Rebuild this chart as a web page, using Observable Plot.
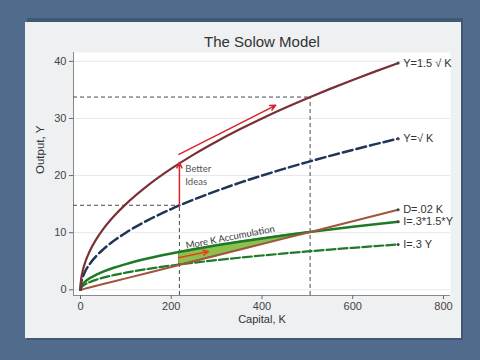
<!DOCTYPE html>
<html>
<head>
<meta charset="utf-8">
<script src="https://cdn.jsdelivr.net/npm/d3@7"></script>
<script src="https://cdn.jsdelivr.net/npm/@observablehq/plot@0.6"></script>
<style>
  html, body { margin: 0; padding: 0; }
  body { width: 480px; height: 360px; background: #506b8c; position: relative; overflow: hidden; font-family: "Liberation Sans", Arial, sans-serif; }
  #shadow { position: absolute; left: 27px; top: 18px; width: 436px; height: 322px; background: #3f5873; }
  #panel { position: absolute; left: 25px; top: 22px; width: 436px; height: 316px; background: #eef0f2; }
  #chart { position: absolute; left: 0; top: 0; }
  #chart svg { background: transparent !important; }
</style>
</head>
<body>
<div id="shadow"></div>
<div id="panel"></div>
<div id="chart"></div>
<script>
// Capital stock samples
const K = [0, 1, 3, 6, 10, 20, 35, 50, 75, 100, 150, 200, 250, 300, 350, 400, 450, 500, 550, 600, 650, 700];
// Y = 1.5 sqrt(K)
const Yhigh = [0, 1.5, 2.60, 3.67, 4.74, 6.71, 8.87, 10.61, 12.99, 15, 18.37, 21.21, 23.72, 25.98, 28.06, 30, 31.82, 33.54, 35.18, 36.74, 38.24, 39.69];
// Y = sqrt(K)
const Ylow = [0, 1, 1.73, 2.45, 3.16, 4.47, 5.92, 7.07, 8.66, 10, 12.25, 14.14, 15.81, 17.32, 18.71, 20, 21.21, 22.36, 23.45, 24.49, 25.50, 26.46];
// I = .3*1.5*Y
const Ihigh = [0, 0.45, 0.78, 1.10, 1.42, 2.01, 2.66, 3.18, 3.90, 4.5, 5.51, 6.36, 7.11, 7.79, 8.42, 9.0, 9.55, 10.06, 10.55, 11.02, 11.47, 11.91];
// I = .3 Y
const Ilow = [0, 0.3, 0.52, 0.73, 0.95, 1.34, 1.77, 2.12, 2.60, 3.0, 3.67, 4.24, 4.74, 5.20, 5.61, 6.0, 6.36, 6.71, 7.04, 7.35, 7.65, 7.94];
// D = .02 K
const Dep = [0, 0.02, 0.06, 0.12, 0.2, 0.4, 0.7, 1, 1.5, 2, 3, 4, 5, 6, 7, 8, 9, 10, 11, 12, 13, 14];

// Shaded "More K accumulation" region
const shadeK = [218, 250, 300, 350, 400, 450, 506];
const shadeTop = [6.64, 7.11, 7.79, 8.42, 9.0, 9.55, 10.12];
const shadeBottom = [4.36, 5, 6, 7, 8, 9, 10.12];

// Steady states
const steadyK = [218, 506];
const steadyY = [14.8, 33.75];

// Annotation arrows
const arrows = [
  {x1: 218, y1: 14.8, x2: 218, y2: 22.3, c: "#d8232a"},
  {x1: 217, y1: 23.7, x2: 430, y2: 32.3, c: "#d8232a"},
  {x1: 216, y1: 5.6, x2: 282, y2: 6.7, c: "#e8401c"}
];

// Curve end labels
const curveLabels = ["Y=1.5 \u221A K", "Y=\u221A K", "D=.02 K", "I=.3*1.5*Y", "I=.3 Y"];
const curveEnds = [39.69, 26.46, 14.0, 11.91, 7.94];

const xTicks = [0, 200, 400, 600, 800];
const yTicks = [0, 10, 20, 30, 40];
const xDomain = [-15.4, 815.4];
const yDomain = [-1, 41.55];

const rows = K.map((k, i) => ({K: k, Yh: Yhigh[i], Yl: Ylow[i], Ih: Ihigh[i], Il: Ilow[i], D: Dep[i]}));
const shade = shadeK.map((k, i) => ({K: k, top: shadeTop[i], bottom: shadeBottom[i]}));
const ends = curveLabels.map((t, i) => ({t, y: curveEnds[i], K: 700}));
const hRefs = steadyK.map((k, i) => ({x1: xDomain[0], x2: k, y: steadyY[i]}));
const vRefs = steadyK.map((k, i) => ({x: k, y1: yDomain[0], y2: steadyY[i]}));

const chart = Plot.plot({
  width: 480,
  height: 360,
  marginLeft: 73,
  marginRight: 30,
  marginTop: 52,
  marginBottom: 65,
  style: {background: "transparent", fontFamily: "Liberation Sans, Arial, sans-serif"},
  x: {domain: xDomain},
  y: {domain: yDomain},
  marks: [
    Plot.frame({fill: "white", stroke: null}),
    Plot.gridY(yTicks, {stroke: "#e6e9ec", strokeOpacity: 1}),
    Plot.ruleX([xDomain[0]], {stroke: "#8a8a8a", strokeWidth: 1}),
    Plot.ruleY([yDomain[0]], {stroke: "#8a8a8a", strokeWidth: 1}),
    Plot.axisX({ticks: xTicks, tickSize: 4, tickPadding: 3, fontSize: 11, color: "#444", stroke: "#666", label: null}),
    Plot.axisY({ticks: yTicks, tickSize: 4, tickPadding: 3, fontSize: 11, color: "#444", stroke: "#666", label: null}),
    // reference dashed lines
    Plot.ruleY(hRefs, {x1: "x1", x2: "x2", y: "y", stroke: "#4a4a4a", strokeDasharray: "4,3", strokeWidth: 1}),
    Plot.ruleX(vRefs, {x: "x", y1: "y1", y2: "y2", stroke: "#4a4a4a", strokeDasharray: "4,3", strokeWidth: 1}),
    // shaded region
    Plot.areaY(shade, {x: "K", y1: "bottom", y2: "top", fill: "#8dc04f", stroke: "#5a7a2a", strokeWidth: 0.8}),
    // curves
    Plot.line(rows, {x: "K", y: "Ih", stroke: "#1d7a25", strokeWidth: 2.5, curve: "monotone-x"}),
    Plot.line(rows, {x: "K", y: "Il", stroke: "#1f7a28", strokeWidth: 2.2, strokeDasharray: "9,3", curve: "monotone-x"}),
    Plot.line(rows, {x: "K", y: "D", stroke: "#a0553e", strokeWidth: 2}),
    Plot.line(rows, {x: "K", y: "Yl", stroke: "#1f3556", strokeWidth: 2.5, strokeDasharray: "10,4", curve: "monotone-x"}),
    Plot.line(rows, {x: "K", y: "Yh", stroke: "#7a3036", strokeWidth: 2.2, curve: "monotone-x"}),
    // arrows
    Plot.arrow(arrows, {x1: "x1", y1: "y1", x2: "x2", y2: "y2", stroke: "c", strokeWidth: 1.5, headLength: 6, headAngle: 50}),
    // curve labels
    Plot.dot(ends, {x: "K", y: "y", r: 1.5, fill: "#444"}),
    Plot.text(ends, {x: "K", y: "y", text: "t", dx: 5, textAnchor: "start", fontSize: 11, fill: "#333"}),
    // annotations
    Plot.text(["Better", "Ideas"], {x: [231, 231], y: [21.1, 18.8], text: d => d, textAnchor: "start", fontSize: 9.5, fill: "#555", fontFamily: "Lato, sans-serif"}),
    Plot.text(["More K Accumulation"], {x: [330], y: [9.2], text: d => d, rotate: -11, fontSize: 9.5, fill: "#333", fontFamily: "Lato, sans-serif"}),
    // titles
    Plot.text(["The Solow Model"], {frameAnchor: "top", lineAnchor: "middle", dy: -10, fontSize: 15, fill: "#333"}),
    Plot.text(["Capital, K"], {x: [400], frameAnchor: "bottom", lineAnchor: "middle", dy: 24, fontSize: 11, fill: "#333"}),
    Plot.text(["Output, Y"], {frameAnchor: "left", dx: -33, rotate: -90, fontSize: 11.5, fill: "#333"})
  ]
});
document.getElementById("chart").appendChild(chart);
</script>
</body>
</html>
